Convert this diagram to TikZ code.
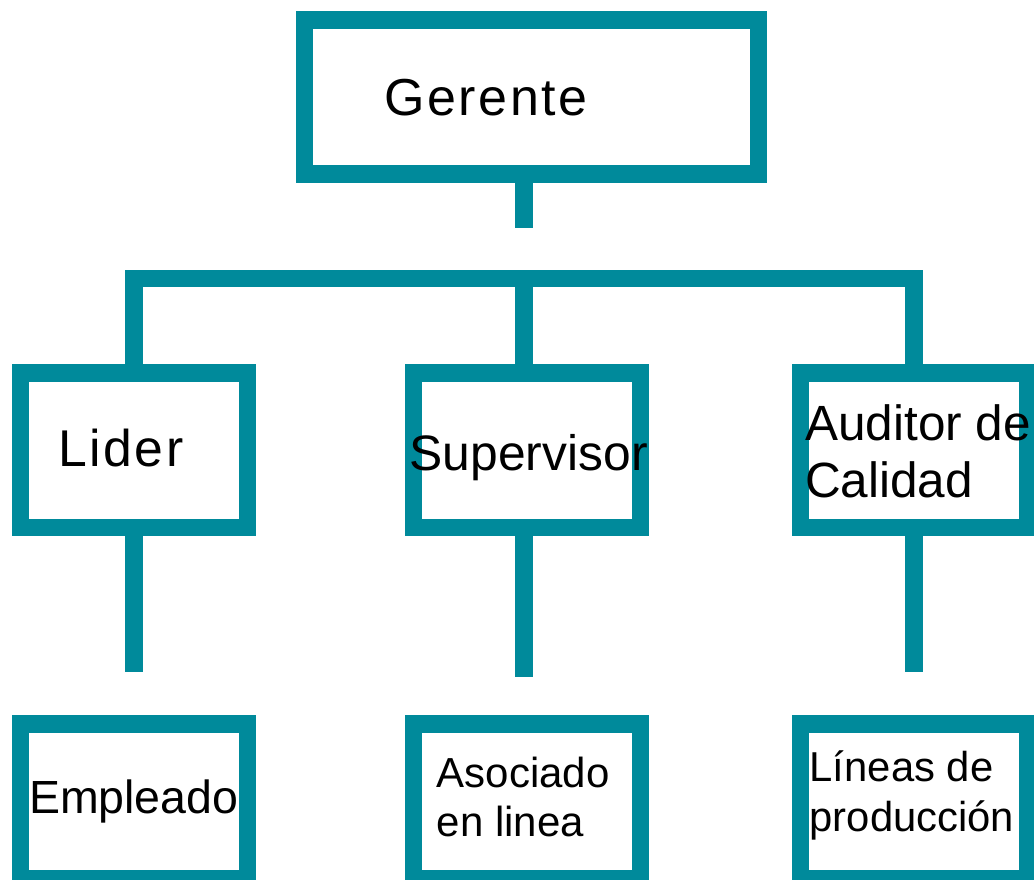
\documentclass[tikz,border=0pt]{standalone}
\usepackage{fontspec}
\setmainfont{Liberation Sans}
\definecolor{teal1}{RGB}{0,138,155}
\begin{document}
\begin{tikzpicture}[x=1pt,y=-1pt,
  box/.style={draw=teal1,line width=17.5pt,rectangle,inner sep=0pt,minimum width=226.8pt,minimum height=154.5pt},
  conn/.style={draw=teal1,line width=17.5pt,line join=miter},
  lbl/.style={inner sep=0pt,anchor=base west,align=left,text=black}]
\useasboundingbox (0,0) rectangle (1034,879);
\begin{scope}
\clip (0,0) rectangle (1034,879);
% boxes
\node[box,minimum width=454.4pt,minimum height=154.4pt] (g) at (531.5,97) {};
\node[box] (lid) at (133.9,450.45) {};
\node[box] (sup) at (527.1,450.45) {};
\node[box] (aud) at (913.9,450.45) {};
\node[box,minimum height=154.7pt] (emp) at (133.9,801.35) {};
\node[box,minimum height=154.7pt] (aso) at (527.1,801.35) {};
\node[box,minimum height=154.7pt] (lin) at (913.9,801.35) {};
% connectors
\coordinate (gstub) at (524,227.7);
\coordinate (barL) at (133.9,278.7);
\coordinate (barM) at (524,278.7);
\coordinate (barR) at (913.9,278.7);
\coordinate (lstub) at (133.9,671.7);
\coordinate (mstub) at (524,677);
\coordinate (rstub) at (913.9,671.7);
\draw[conn] (g.south -| gstub) -- (gstub);
\draw[conn] (lid.north) -- (barL) -- (barR) -- (aud.north);
\draw[conn] (barM) -- (barM |- sup.north);
\draw[conn] (lid.south) -- (lstub);
\draw[conn] (mstub |- sup.south) -- (mstub);
\draw[conn] (aud.south) -- (rstub);
\end{scope}
% labels
\node[lbl,font={\fontsize{52}{60}\selectfont\addfontfeature{LetterSpace=5}}] (tg) at (384,115) {Gerente};
\node[lbl,font={\fontsize{51.7}{60}\selectfont\addfontfeature{LetterSpace=5}}] (tl) at (58,466) {Lider};
\node[lbl,font={\fontsize{49.8}{57}\selectfont}] (ts) at (409.5,470) {Supervisor};
\node[lbl,font={\fontsize{49.5}{57.3}\selectfont}] (ta) at (805,497.3) {Auditor de\\Calidad};
\node[lbl,font={\fontsize{46.5}{52}\selectfont}] (te) at (28.8,813.3) {Empleado};
\node[lbl,font={\fontsize{42}{49}\selectfont}] (tas) at (436.5,836.7) {Asociado\\en linea};
\node[lbl,font={\fontsize{41.8}{50}\selectfont}] (tli) at (809.5,831.7) {Líneas de\\producción};
\end{tikzpicture}
\end{document}
